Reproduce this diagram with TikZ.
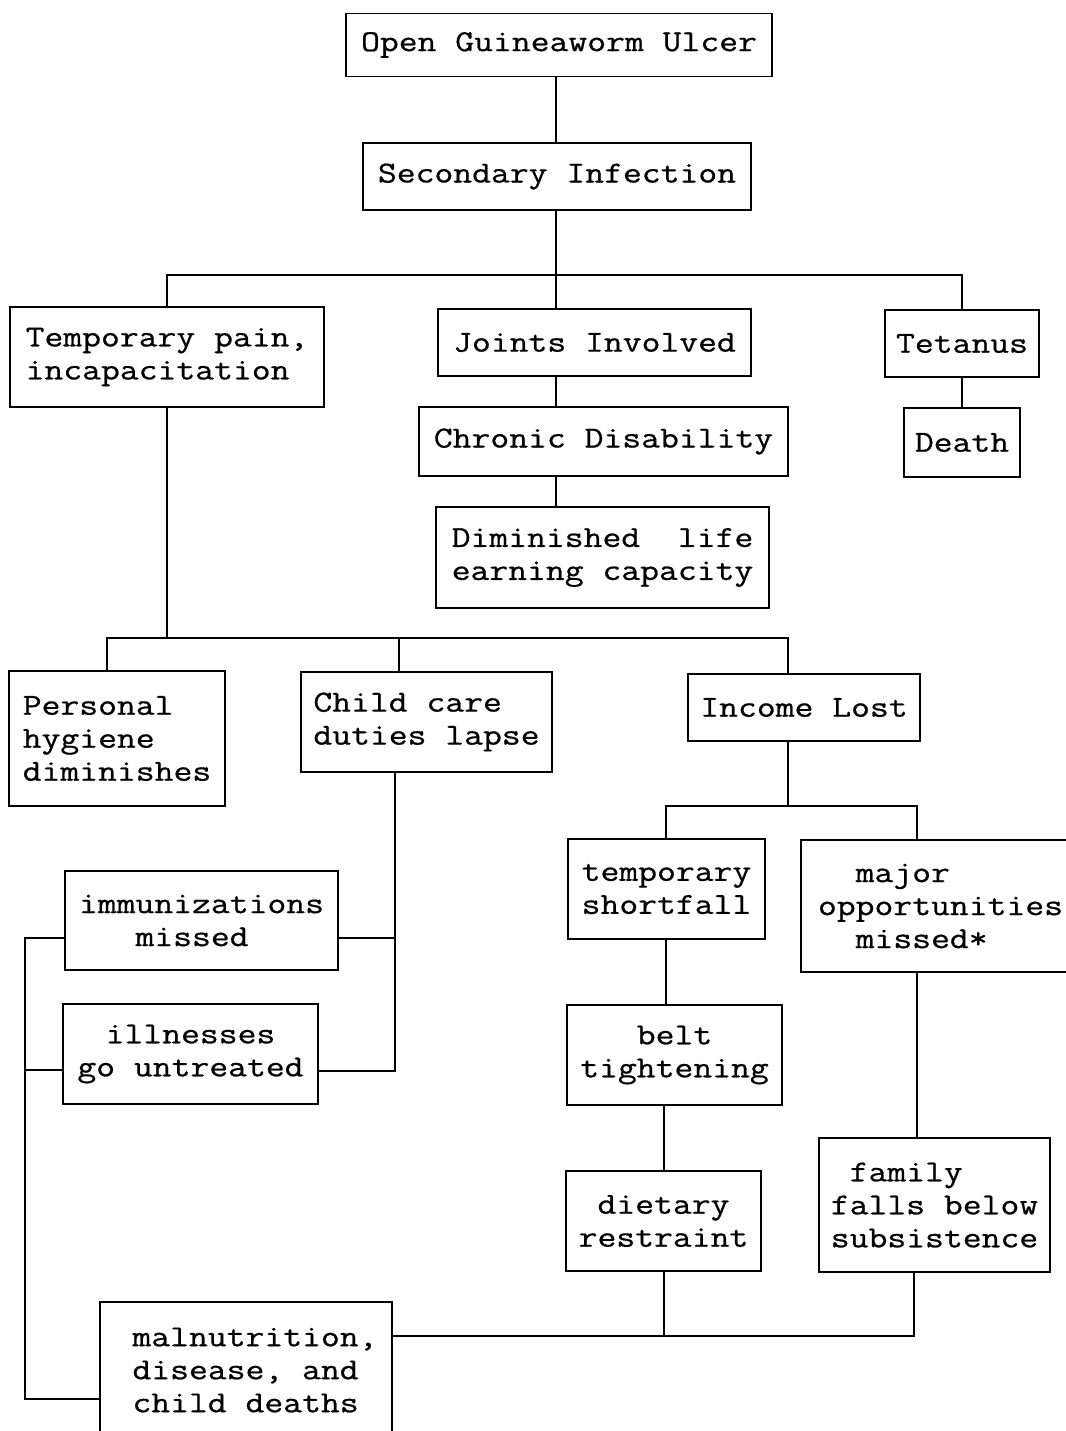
\documentclass[tikz,border=0pt]{standalone}
\usepackage{fontspec}
\newfontfamily\typer{Latin Modern Mono}[FakeStretch=1.2, FakeBold=0.7]
\begin{document}
\begin{tikzpicture}[x=1pt,y=-1pt,
  bx/.style={draw, line width=1.7pt, inner sep=0pt, align=left,
    font=\typer\fontsize{30.5}{33}\selectfont},
  ctr/.style={align=center},
  link/.style={line width=1.7pt, line cap=rect}]
\fill[white] (0,0) rectangle (1065,1431);
\useasboundingbox (0,0) rectangle (1065,1431);

% boxes
\node[bx, minimum width=426, minimum height=63] (ulcer) at (559,45) {Open Guineaworm Ulcer};
\node[bx, minimum width=388, minimum height=67] (sec) at (557,176.5) {Secondary Infection};
\node[bx, minimum width=314, minimum height=100] (pain) at (167,357) {Temporary pain,\\incapacitation};
\node[bx, minimum width=313, minimum height=67] (joints) at (594.5,342.5) {Joints Involved};
\node[bx, minimum width=154, minimum height=67] (tetanus) at (962,343.5) {Tetanus};
\node[bx, minimum width=369, minimum height=69] (chronic) at (603.5,441.5) {Chronic Disability};
\node[bx, minimum width=116, minimum height=69] (death) at (962,442.5) {Death};
\node[bx, minimum width=333, minimum height=101] (dimin) at (602.5,557.5) {Diminished\ \ life\\earning capacity};
\node[bx, minimum width=216, minimum height=135] (hygiene) at (117,738.5) {Personal\\hygiene\\diminishes};
\node[bx, minimum width=251, minimum height=100] (child) at (426.5,722) {Child care\\duties lapse};
\node[bx, minimum width=232, minimum height=67] (income) at (804,707.5) {Income Lost};
\node[bx, minimum width=197, minimum height=100] (short) at (666.5,889) {temporary\\shortfall};
\node[bx, minimum width=279, minimum height=132] (major) at (940.5,906) {\phantom{mm}major\\opportunities\\\phantom{mm}missed*};
\node[bx, minimum width=273, minimum height=99] (immun) at (201.5,920.5) {immunizations\\\phantom{mmm}missed};
\node[bx, ctr, minimum width=255, minimum height=100] (ill) at (190.5,1054) {illnesses\\go untreated};
\node[bx, ctr, minimum width=215, minimum height=100] (belt) at (674.5,1055) {belt\\tightening};
\node[bx, ctr, minimum width=195, minimum height=100] (diet) at (663.5,1221) {dietary\\restraint};
\node[bx, minimum width=231, minimum height=134] (family) at (934.5,1205) {\phantom{m}family\\falls below\\subsistence};
\node[bx, minimum width=292, minimum height=136] (maln) at (246,1370) {\hspace*{18pt}malnutrition,\\\hspace*{18pt}disease, and\\\hspace*{18pt}child deaths};

% junction points
\coordinate (j1) at (556,275);
\coordinate (j2) at (167,638);
\coordinate (bh) at (107,638);
\coordinate (bc) at (399,638);
\coordinate (bi) at (788,638);
\coordinate (j3) at (788,806);
\coordinate (bs) at (666,806);
\coordinate (bm) at (917,806);
\coordinate (jd) at (664,1336);
\coordinate (jf) at (914,1336);
\coordinate (ji) at (395,938);
\coordinate (jc) at (395,1071);
\coordinate (L1) at (25,938);
\coordinate (L2) at (25,1070);
\coordinate (L3) at (25,1399);

% top part
\draw[link] (j1 |- ulcer.south) -- (j1 |- sec.north);
\draw[link] (j1 |- sec.south) -- (j1);
\draw[link] (pain.north) |- (j1) -| (tetanus.north);
\draw[link] (j1) -- (j1 |- joints.north);
\draw[link] (j1 |- joints.south) -- (j1 |- chronic.north);
\draw[link] (j1 |- chronic.south) -- (j1 |- dimin.north);
\draw[link] (tetanus.south) -- (death.north);

% consequences of incapacitation
\draw[link] (pain.south) -- (j2);
\draw[link] (bh |- hygiene.north) -- (bh) -- (bi) -- (bi |- income.north);
\draw[link] (bc) -- (bc |- child.north);

% income branch
\draw[link] (j3 |- income.south) -- (j3);
\draw[link] (bs |- short.north) -- (bs) -- (bm) -- (bm |- major.north);
\draw[link] (bs |- short.south) -- (bs |- belt.north);
\draw[link] (jd |- belt.south) -- (jd |- diet.north);
\draw[link] (bm |- major.south) -- (bm |- family.north);
\draw[link] (jd |- diet.south) -- (jd);
\draw[link] (maln.east |- jd) -- (jf) -- (jf |- family.south);

% child care branch
\draw[link] (jc |- child.south) -- (jc) -- (ill.east |- jc);
\draw[link] (immun.east |- ji) -- (ji);
\draw[link] (immun.west |- L1) -- (L1) -- (L3) -- (maln.west |- L3);
\draw[link] (L2) -- (ill.west |- L2);
\end{tikzpicture}
\end{document}
